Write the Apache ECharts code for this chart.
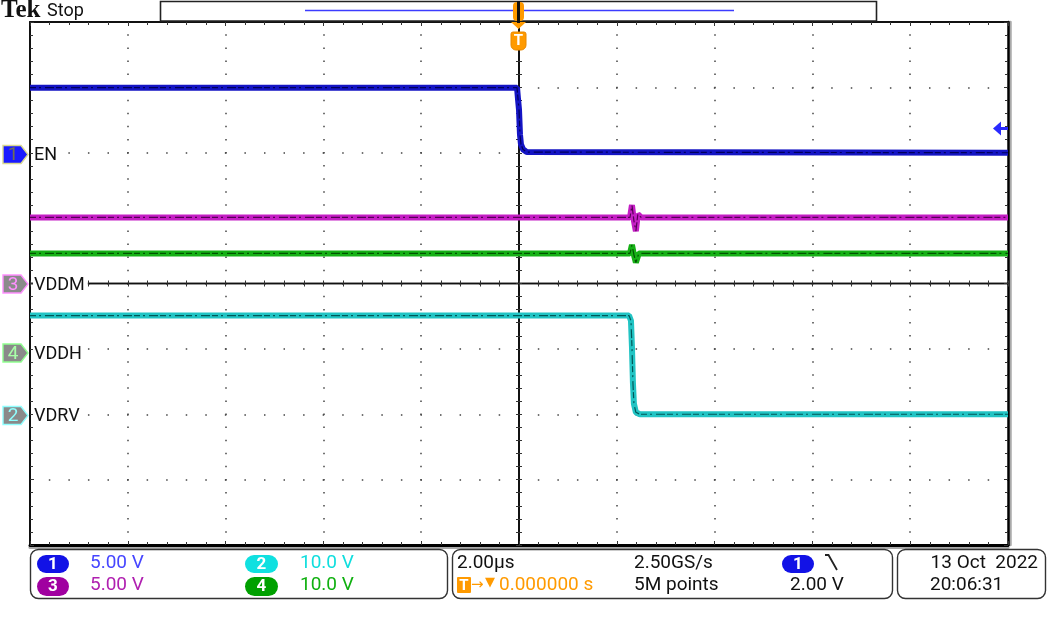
<!DOCTYPE html>
<html><head><meta charset="utf-8">
<script src="https://cdn.jsdelivr.net/npm/echarts@6/dist/echarts.min.js"></script>
<style>html,body{margin:0;padding:0;background:#fff}#c{width:1050px;height:628px}</style>
</head><body><div id="c"></div>
<script>
// ---- horizontal (time) axis: 2.00 µs/div, trigger at 0 ----
const timeMinUs = -10, timeMaxUs = 10, timeDivUs = 2;
// ---- vertical graticule: 8 divisions ----
const divMin = -4, divMax = 4;
// ---- channel settings ----
const chNames = ['EN', 'VDRV', 'VDDM', 'VDDH'];          // ch1, ch2, ch3, ch4
const chVoltsPerDiv = [5.00, 10.0, 5.00, 10.0];
const chPositionDiv = [2.0, -2.0, 0.0, -1.06];
const chColors = ['#1414c4', '#22c4c4', '#c41ec4', '#16b016'];
const chDark = ['#00005c', '#005858', '#560056', '#005400'];
// ---- ch1 EN ----
const enTimeUs = [-10, -0.04, -0.02, 0.0, 0.02, 0.04, 0.08, 0.16, 10];
const enVolts  = [4.98, 4.98, 4.1, 3.3, 1.4, 0.65, 0.27, 0.05, 0.0];
// ---- ch2 VDRV ----
const vdrvTimeUs = [-10, 2.25, 2.29, 2.31, 2.33, 2.35, 2.39, 2.47, 10];
const vdrvVolts  = [15.1, 15.1, 14.3, 10.3, 4.8, 1.6, 0.3, 0.0, 0.0];
// ---- ch3 VDDM ----
const vddmTimeUs = [-10, 2.27, 2.31, 2.35, 2.39, 2.43, 2.5, 10];
const vddmVolts  = [5.05, 5.05, 6.0, 4.8, 4.0, 5.3, 5.05, 5.05];
// ---- ch4 VDDH ----
const vddhTimeUs = [-10, 2.27, 2.31, 2.35, 2.39, 2.45, 10];
const vddhVolts  = [15.2, 15.2, 16.5, 15.0, 13.8, 15.2, 15.2];
// ---- status readouts ----
const statusScale = ['5.00 V', '10.0 V', '5.00 V', '10.0 V'];
const timebaseText = '2.00µs', sampleRateText = '2.50GS/s', recordText = '5M points';
const trigDelayText = '0.000000 s', trigLevelText = '2.00 V';
const dateText = '13 Oct  2022', timeText = '20:06:31';

const traces = [
  [enTimeUs, enVolts], [vdrvTimeUs, vdrvVolts], [vddmTimeUs, vddmVolts], [vddhTimeUs, vddhVolts]
];
function toDiv(ch, t, v) { return t.map((x, i) => [x, chPositionDiv[ch] + v[i] / chVoltsPerDiv[ch]]); }

const FONT = 'Roboto, "DejaVu Sans", sans-serif';
const series = [];
const drawOrder = [0, 2, 3, 1];
drawOrder.forEach(ch => {
  const d = toDiv(ch, traces[ch][0], traces[ch][1]);
  series.push({ type: 'line', data: d, showSymbol: false, z: 3, silent: true,
    lineStyle: { color: chColors[ch], width: 6 } });
  series.push({ type: 'line', data: d, showSymbol: false, z: 4, silent: true,
    lineStyle: { color: chDark[ch], width: 1.2, type: [6, 3, 2, 4, 9, 2], dashOffset: 0 } });
});

const dotColor = '#444';
const hMinor = 978 / 50, vMinor = 523 / 40;
function xAx(extra) {
  return Object.assign({ type: 'value', min: timeMinUs, max: timeMaxUs, interval: timeDivUs,
    axisLabel: { show: false }, splitLine: { show: false },
    minorTick: { show: true, splitNumber: 5, length: 3, lineStyle: { color: '#333', width: 1 } },
    axisTick: { show: true, inside: true, length: 4, lineStyle: { color: '#333', width: 1 } },
    axisLine: { onZero: false, lineStyle: { color: '#111', width: 2 } } }, extra);
}
function yAx(extra) {
  return Object.assign({ type: 'value', min: divMin, max: divMax, interval: 1,
    axisLabel: { show: false }, splitLine: { show: false },
    minorTick: { show: true, splitNumber: 5, length: 3, lineStyle: { color: '#333', width: 1 } },
    axisTick: { show: true, inside: true, length: 4, lineStyle: { color: '#333', width: 1 } },
    axisLine: { onZero: false, lineStyle: { color: '#111', width: 2 } } }, extra);
}

function pill(x, y, w, h, fill, label) {
  return [
    { type: 'rect', shape: { x, y, width: w, height: h, r: h / 2 }, style: { fill } , z: 10},
    { type: 'text', style: { text: label, x: x + w / 2, y: y + h / 2 + 0.5, fill: '#fff', font: 'bold 17px ' + FONT, align: 'center', verticalAlign: 'middle' }, z: 11 }
  ];
}
function marker(yc, fill, stroke, num, numColor, name) {
  return [
    { type: 'polygon', shape: { points: [[3, yc - 9], [21, yc - 9], [28, yc], [21, yc + 9], [3, yc + 9]] },
      style: { fill, stroke, lineWidth: 1.4 }, z: 10 },
    { type: 'text', style: { text: num, x: 13, y: yc + 1, fill: numColor, font: '19px ' + FONT, align: 'center', verticalAlign: 'middle' }, z: 11 },
    { type: 'text', style: { text: name, x: 33, y: yc + 1, fill: '#111', font: '18px ' + FONT, align: 'left', verticalAlign: 'middle',
      backgroundColor: '#fff', padding: [0, 3, 0, 1] }, z: 11 }
  ];
}

const F = '19px ' + FONT;
const row1 = 563, row2 = 585;
const graphic = [].concat(
  [
    { type: 'text', style: { text: 'Tek', x: 1, y: 11, fill: '#111', font: 'bold 25px "Liberation Serif", serif', verticalAlign: 'middle' }, z: 10 },
    { type: 'text', style: { text: 'Stop', x: 47, y: 11, fill: '#111', font: '18px ' + FONT, verticalAlign: 'middle' }, z: 10 },
    { type: 'rect', shape: { x: 160.5, y: 1.5, width: 716, height: 19.5 }, style: { fill: '#fff', stroke: '#222', lineWidth: 1.6 }, z: 10 },
    { type: 'line', shape: { x1: 305, y1: 10.5, x2: 734, y2: 10.5 }, style: { stroke: '#3c3cff', lineWidth: 1.6 }, z: 11 },
    // trigger position marker
    { type: 'rect', shape: { x: 513, y: 2, width: 11, height: 19, r: 4 }, style: { fill: '#ff9a00' }, z: 12 },
    { type: 'rect', shape: { x: 517, y: 1, width: 3, height: 22 }, style: { fill: '#111' }, z: 13 },
    { type: 'polygon', shape: { points: [[511, 22], [526, 22], [518.5, 29]] }, style: { fill: '#ff9a00' }, z: 12 },
    { type: 'rect', shape: { x: 511, y: 32, width: 15, height: 18, r: [2, 2, 5, 5] }, style: { fill: '#ff9a00', stroke: '#e88800', lineWidth: 1 }, z: 12 },
    { type: 'text', style: { text: 'T', x: 518.5, y: 41, fill: '#fff', font: 'bold 15px ' + FONT, align: 'center', verticalAlign: 'middle' }, z: 13 },
    // trigger level arrow (right)
    { type: 'polygon', shape: { points: [[993, 128.5], [1001, 121.5], [1001, 135.5]] }, style: { fill: '#2a2aff' }, z: 12 },
    { type: 'rect', shape: { x: 1000, y: 127, width: 8, height: 3 }, style: { fill: '#2a2aff' }, z: 12 },
    // status boxes
    { type: 'rect', shape: { x: 30.5, y: 549.5, width: 417, height: 49, r: 8 }, style: { fill: 'none', stroke: '#333', lineWidth: 1.4 }, z: 10 },
    { type: 'rect', shape: { x: 452.5, y: 549.5, width: 440, height: 49, r: 8 }, style: { fill: 'none', stroke: '#333', lineWidth: 1.4 }, z: 10 },
    { type: 'rect', shape: { x: 897.5, y: 549.5, width: 148, height: 49, r: 8 }, style: { fill: 'none', stroke: '#333', lineWidth: 1.4 }, z: 10 }
  ],
  marker(154.5, '#1a1aff', '#d8d890', '1', '#707050', chNames[0]),
  marker(284, '#8a8a8a', '#ff90ff', '3', '#ff90ff', chNames[2]),
  marker(353, '#8a8a8a', '#90ff90', '4', '#a8ffa8', chNames[3]),
  marker(415.5, '#8a8a8a', '#90ffff', '2', '#90ffff', chNames[1]),
  pill(37, 555, 32, 18, '#1212e6', '1'),
  pill(245, 555, 33, 18, '#10e0e0', '2'),
  pill(37, 577, 32, 19, '#a000a0', '3'),
  pill(245, 577, 33, 19, '#00a000', '4'),
  pill(782, 555, 32, 18, '#1212e6', '1'),
  [
    { type: 'text', style: { text: statusScale[0], x: 90, y: row1, fill: '#4646ff', font: F, verticalAlign: 'middle' }, z: 11 },
    { type: 'text', style: { text: statusScale[1], x: 300, y: row1, fill: '#10dede', font: F, verticalAlign: 'middle' }, z: 11 },
    { type: 'text', style: { text: statusScale[2], x: 90, y: row2, fill: '#b020b0', font: F, verticalAlign: 'middle' }, z: 11 },
    { type: 'text', style: { text: statusScale[3], x: 300, y: row2, fill: '#10b010', font: F, verticalAlign: 'middle' }, z: 11 },
    { type: 'text', style: { text: timebaseText, x: 457, y: row1, fill: '#111', font: F, verticalAlign: 'middle' }, z: 11 },
    { type: 'text', style: { text: sampleRateText, x: 634, y: row1, fill: '#111', font: F, verticalAlign: 'middle' }, z: 11 },
    { type: 'polyline', shape: { points: [[825, 555], [828.5, 555], [837, 570]] }, style: { stroke: '#222', lineWidth: 1.8, fill: 'none' }, z: 11 },
    { type: 'rect', shape: { x: 457, y: 577, width: 14, height: 16, r: 1 }, style: { fill: '#ff9a00' }, z: 11 },
    { type: 'text', style: { text: 'T', x: 464, y: row2 + 1, fill: '#fff', font: 'bold 15px ' + FONT, align: 'center', verticalAlign: 'middle' }, z: 12 },
    { type: 'text', style: { text: '→', x: 471, y: row2, fill: '#ff9a00', font: '15px "DejaVu Sans", sans-serif', verticalAlign: 'middle' }, z: 11 },
    { type: 'text', style: { text: '▼', x: 485, y: row2 - 2, fill: '#ff9a00', font: '13px "DejaVu Sans", sans-serif', verticalAlign: 'middle' }, z: 11 },
    { type: 'text', style: { text: trigDelayText, x: 499, y: row2, fill: '#ff9a00', font: F, verticalAlign: 'middle' }, z: 11 },
    { type: 'text', style: { text: recordText, x: 634, y: row2, fill: '#111', font: F, verticalAlign: 'middle' }, z: 11 },
    { type: 'text', style: { text: trigLevelText, x: 790, y: row2, fill: '#111', font: F, verticalAlign: 'middle' }, z: 11 },
    { type: 'text', style: { text: dateText, x: 1038, y: row1, fill: '#111', font: F, align: 'right', verticalAlign: 'middle' }, z: 11 },
    { type: 'text', style: { text: timeText, x: 930, y: row2, fill: '#111', font: F, verticalAlign: 'middle' }, z: 11 }
  ]
);

const option = {
  animation: false,
  backgroundColor: '#fff',
  grid: { left: 30, top: 22, width: 978, height: 523 },
  xAxis: [
    xAx({ position: 'bottom',
      axisLine: { onZero: false, lineStyle: { color: '#000', width: 3, shadowColor: '#aaa', shadowOffsetY: 2 } },
      splitLine: { show: true, lineStyle: { color: dotColor, width: 1.5, type: [1.5, vMinor - 1.5], dashOffset: 0.75 } } }),
    xAx({ position: 'top' }),
    xAx({ position: 'bottom', axisLine: { onZero: true, onZeroAxisIndex: 0, lineStyle: { color: '#111', width: 1.3 } },
      axisTick: { show: true, inside: true, length: 3, lineStyle: { color: '#333' } } }),
    xAx({ position: 'bottom', axisLine: { onZero: true, onZeroAxisIndex: 0, lineStyle: { color: '#111', width: 1.3 } },
      axisTick: { show: true, inside: false, length: 3, lineStyle: { color: '#333' } },
      minorTick: { show: true, splitNumber: 5, length: 3, lineStyle: { color: '#333', width: 1 } } })
  ],
  yAxis: [
    yAx({ position: 'left',
      splitLine: { show: true, lineStyle: { color: dotColor, width: 1.5, type: [1.5, hMinor - 1.5], dashOffset: 0.75 } } }),
    yAx({ position: 'right', axisLine: { onZero: false, lineStyle: { color: '#000', width: 2.5, shadowColor: '#aaa', shadowOffsetX: 2 } } }),
    yAx({ position: 'left', axisLine: { onZero: true, onZeroAxisIndex: 0, lineStyle: { color: '#111', width: 2 } },
      axisTick: { show: true, inside: true, length: 3, lineStyle: { color: '#333' } } }),
    yAx({ position: 'left', axisLine: { onZero: true, onZeroAxisIndex: 0, lineStyle: { color: '#111', width: 2 } },
      axisTick: { show: true, inside: false, length: 3, lineStyle: { color: '#333' } },
      minorTick: { show: true, splitNumber: 5, length: 3, lineStyle: { color: '#333', width: 1 } } })
  ],
  series: series,
  graphic: graphic
};
const chart = echarts.init(document.getElementById('c'), null, { renderer: 'canvas' });
chart.setOption(option);
</script></body></html>
